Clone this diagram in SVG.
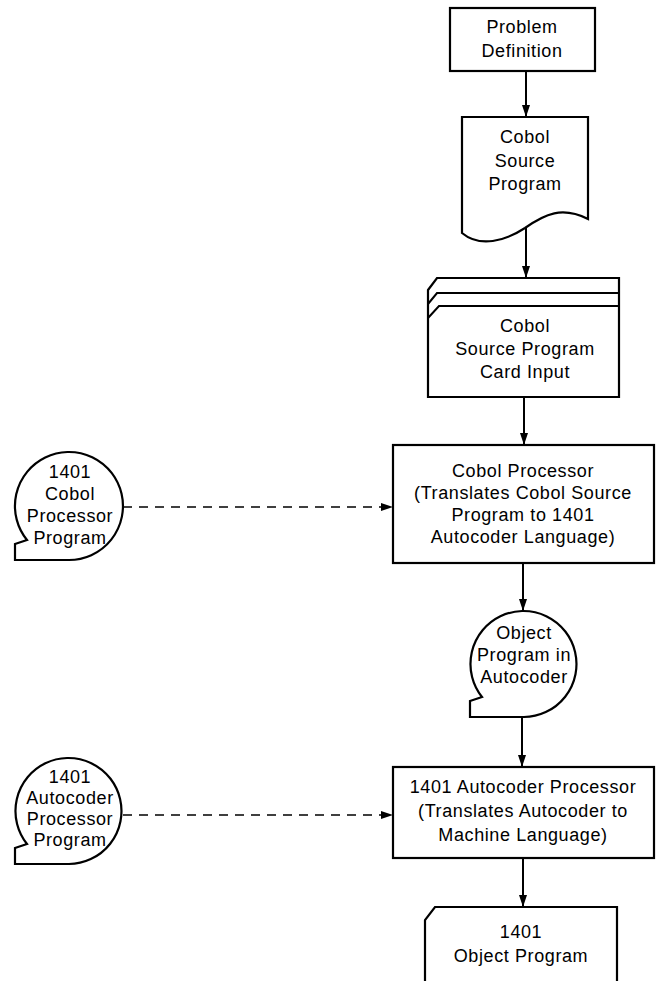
<svg xmlns="http://www.w3.org/2000/svg" width="660" height="981" viewBox="0 0 660 981">
<defs>
<marker id="ah" viewBox="0 0 12 8" refX="12" refY="4" markerWidth="12" markerHeight="8" markerUnits="userSpaceOnUse" orient="auto">
<path d="M0,0 L12,4 L0,8 Z" fill="#000"/>
</marker>
<style>
.s{fill:#fff;stroke:#000;stroke-width:2.2;stroke-linejoin:miter}
.t{font-family:"Liberation Sans",Arial,sans-serif;font-size:18px;letter-spacing:0.6px;text-anchor:middle;fill:#000}
.c{fill:none;stroke:#000;stroke-width:2}
.d{fill:none;stroke:#000;stroke-width:1.6;stroke-dasharray:9 7}
</style>
</defs>
<rect width="660" height="981" fill="#fff"/>
<g id="connectors">
<line class="c" x1="526" y1="71" x2="526" y2="117" marker-end="url(#ah)"/>
<line class="c" x1="526" y1="226" x2="526" y2="278" marker-end="url(#ah)"/>
<line class="c" x1="524" y1="397" x2="524" y2="445" marker-end="url(#ah)"/>
<line class="c" x1="523" y1="563" x2="523" y2="611" marker-end="url(#ah)"/>
<line class="c" x1="522" y1="717" x2="522" y2="767" marker-end="url(#ah)"/>
<line class="c" x1="523" y1="858" x2="523" y2="907" marker-end="url(#ah)"/>
<line class="d" x1="123" y1="507" x2="393" y2="507" marker-end="url(#ah)"/>
<line class="d" x1="123" y1="815" x2="393" y2="815" marker-end="url(#ah)"/>
</g>
<g id="problem-definition">
<rect class="s" x="450" y="8" width="145" height="63"/>
<text class="t" x="522" y="33">Problem</text>
<text class="t" x="522" y="57">Definition</text>
</g>
<g id="cobol-source-document">
<path class="s" d="M462,117 H588 V219 C562,206 545,214 525,228 C505,241 480,248 462,233 Z"/>
<text class="t" x="525" y="143">Cobol</text>
<text class="t" x="525" y="167">Source</text>
<text class="t" x="525" y="190">Program</text>
</g>
<g id="card-input">
<path class="s" d="M428,290 L437,278 H619 V397 H428 Z"/>
<path class="c" d="M428,304 L437,293 H619"/>
<path class="c" d="M428,318 L439,306 H619"/>
<text class="t" x="525" y="332">Cobol</text>
<text class="t" x="525" y="355">Source Program</text>
<text class="t" x="525" y="378">Card Input</text>
</g>
<g id="cobol-processor-program">
<path class="s" d="M69,560 H15 V544 L27,540 A54,54 0 1 1 69,560 Z"/>
<text class="t" x="70" y="478">1401</text>
<text class="t" x="70" y="500">Cobol</text>
<text class="t" x="70" y="522">Processor</text>
<text class="t" x="70" y="544">Program</text>
</g>
<g id="cobol-processor">
<rect class="s" x="393" y="445" width="261" height="118"/>
<text class="t" x="523" y="477">Cobol Processor</text>
<text class="t" x="523" y="499">(Translates Cobol Source</text>
<text class="t" x="523" y="521">Program to 1401</text>
<text class="t" x="523" y="543">Autocoder Language)</text>
</g>
<g id="object-program-autocoder">
<path class="s" d="M524,717 H470 V701 L482,697 A53,53 0 1 1 524,717 Z"/>
<text class="t" x="524" y="639">Object</text>
<text class="t" x="524" y="661">Program in</text>
<text class="t" x="524" y="683">Autocoder</text>
</g>
<g id="autocoder-processor-program">
<path class="s" d="M69,864 H15 V848 L27,844 A53,53 0 1 1 69,864 Z"/>
<text class="t" x="70" y="783">1401</text>
<text class="t" x="70" y="804">Autocoder</text>
<text class="t" x="70" y="825">Processor</text>
<text class="t" x="70" y="846">Program</text>
</g>
<g id="autocoder-processor">
<rect class="s" x="393" y="767" width="261" height="91"/>
<text class="t" x="523" y="793">1401 Autocoder Processor</text>
<text class="t" x="523" y="817">(Translates Autocoder to</text>
<text class="t" x="523" y="841">Machine Language)</text>
</g>
<g id="object-program">
<path class="s" d="M425,984 V920 L435,907 H617 V984"/>
<text class="t" x="521" y="938">1401</text>
<text class="t" x="521" y="962">Object Program</text>
</g>
</svg>
